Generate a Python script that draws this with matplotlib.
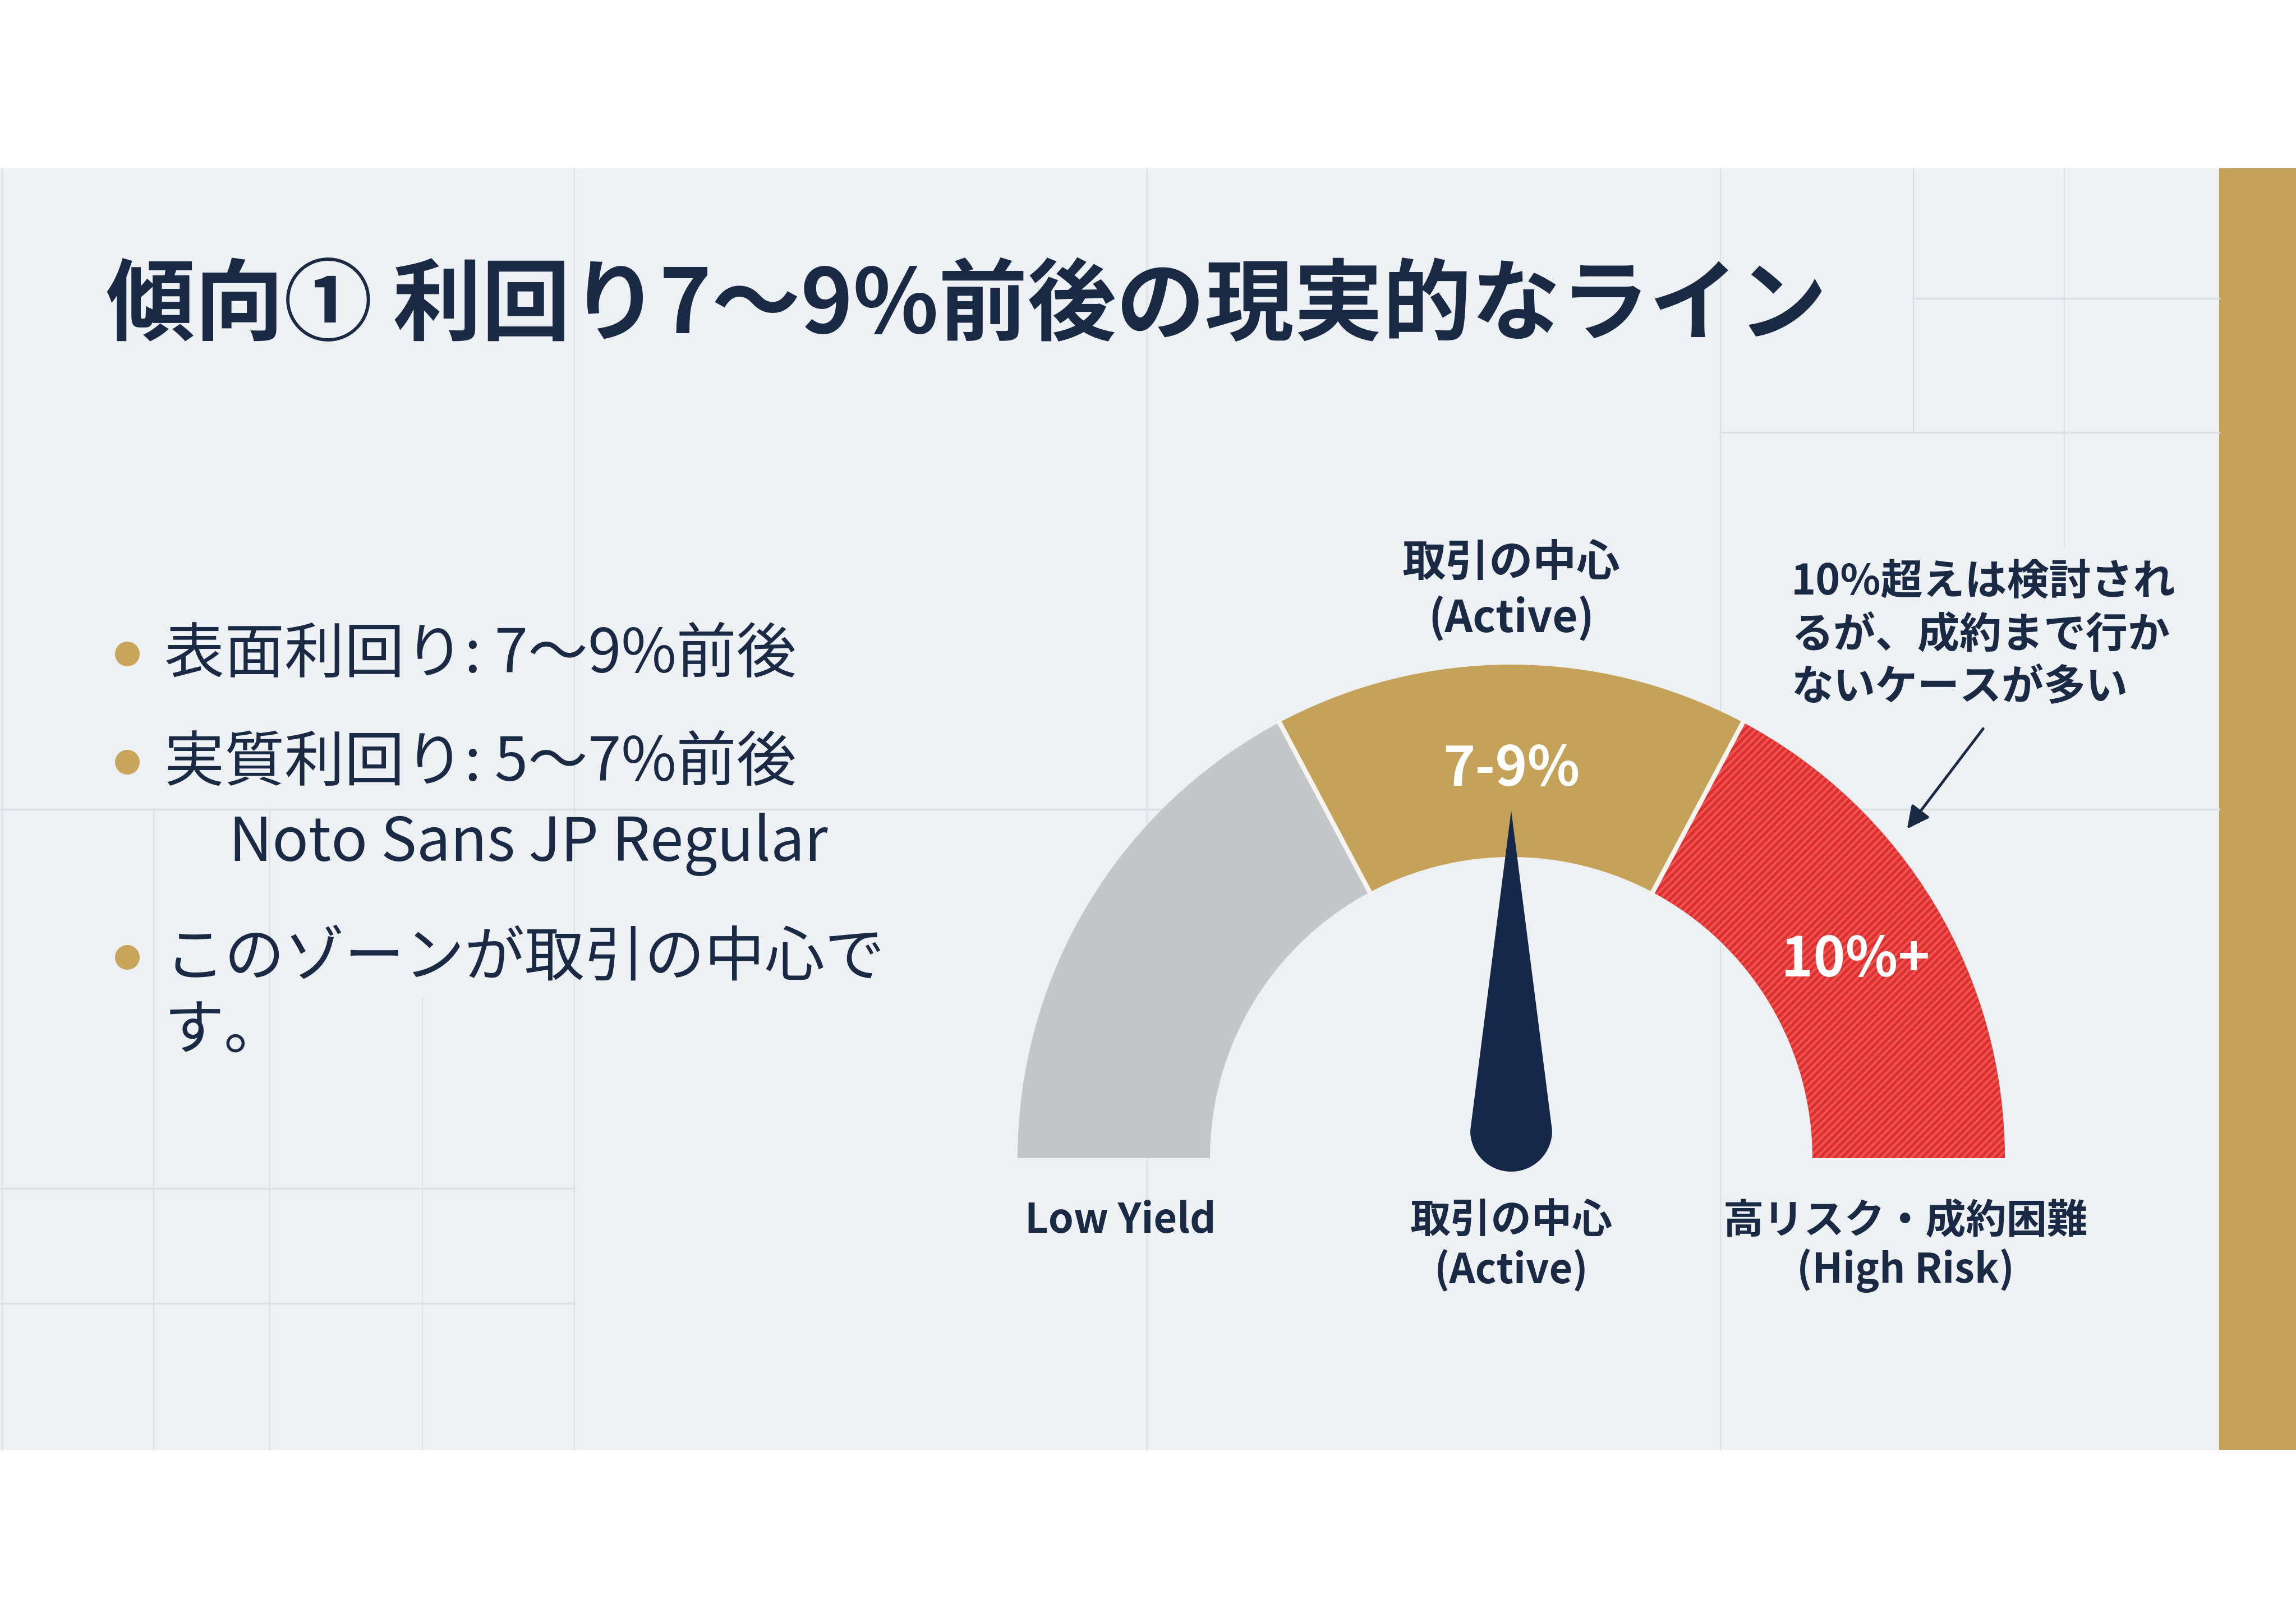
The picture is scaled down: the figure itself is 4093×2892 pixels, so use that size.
import numpy as np
import matplotlib.pyplot as plt
from matplotlib.patches import Wedge, Polygon, Circle, Rectangle
from matplotlib.collections import LineCollection

plt.rcParams['font.family'] = ['Noto Sans CJK JP', 'DejaVu Sans']

# slide text
title = '傾向① 利回り7〜9%前後の現実的なライン'
bullets = ['表面利回り: 7〜9%前後', '実質利回り: 5〜7%前後', 'このゾーンが取引の中心で']
bullet_extra = ['Noto Sans JP Regular', 'す。']

# gauge data: zones from left to right, size in degrees of the half circle
zone_sizes = [62, 56, 62]
zone_colors = ['#c5c6ca', '#c4a259', '#db2e2f']
zone_labels_inner = ['', '7-9%', '10%+']
zone_labels_bottom = [['Low Yield'], ['取引の中心', '(Active)'], ['高リスク・成約困難', '(High Risk)']]
needle_value = 0.5  # fraction of the gauge (0 = left, 1 = right)
top_label = '取引の中心\n(Active)'
note = ['10%超えは検討され', 'るが、成約まで行か', 'ないケースが多い']

W, H = 4093, 2892
navy = '#1a2a44'
bg = '#eef1f4'
grid_c = '#dde0e5'

fig = plt.figure(figsize=(W / 100, H / 100), dpi=100, facecolor='white')
ax = fig.add_axes([0, 0, 1, 1])
ax.set_xlim(0, W)
ax.set_ylim(H, 0)
ax.set_aspect('equal')
ax.axis('off')

# slide background + gold side bar
ax.add_patch(Rectangle((0, 300), 3956, 2285, facecolor=bg, edgecolor='none', zorder=0))
ax.add_patch(Rectangle((3956, 300), W - 3956, 2285, facecolor='#c4a058', edgecolor='none', zorder=0))

# faint grid of the background
vlines = [(1024, 300, 2585), (2045, 300, 2585), (3067, 300, 2585), (3411, 300, 771),
          (3680, 300, 974), (274, 1445, 2585), (481, 1445, 2585), (753, 1780, 2585), (4, 300, 2585)]
hlines = [(1443, 0, 3956), (2119, 0, 1024), (2324, 0, 1024), (532, 3411, 3956), (771, 3067, 3956)]
for x, y0, y1 in vlines:
    ax.plot([x, x], [y0, y1], color=grid_c, lw=1.6, zorder=1)
for y, x0, x1 in hlines:
    ax.plot([x0, x1], [y, y], color=grid_c, lw=2.4, zorder=1)

# title
ax.text(189, 548, title, fontsize=114, fontweight='bold', color=navy, va='center', ha='left', zorder=5)

# bullets
by = [1168, 1361, 1709]
for y, t in zip(by, bullets):
    ax.add_patch(Circle((227, y - 2), 22, facecolor='#c9a55c', edgecolor='none', zorder=5))
    ax.text(293, y, t, fontsize=77, color=navy, va='center', ha='left', zorder=5)
ax.text(408, 1535, bullet_extra[0], fontsize=77, color=navy, va='baseline', ha='left', zorder=5)
ax.text(293, 1840, bullet_extra[1], fontsize=77, color=navy, va='center', ha='left', zorder=5)

# gauge
cx, cy = 2694, 2065
R, r = 880, 537
mid = (R + r) / 2
start = 180
edges = []
for i, (size, col) in enumerate(zip(zone_sizes, zone_colors)):
    a1, a2 = start - size, start
    w = Wedge((cx, cy), R, -a2, -a1, width=R - r, facecolor=col, edgecolor='none', zorder=3)
    ax.add_patch(w)
    if i == 2:
        # fine diagonal stripes over the risky zone
        cs = np.arange(cx + cy - R - 20, cx + R + cy + 20, 13)
        segs = [[(c - cy - 10, cy + 10), (c - (cy - R - 10), cy - R - 10)] for c in cs]
        lc = LineCollection(segs, colors='#f0524f', linewidths=3.0, zorder=3.5)
        ax.add_collection(lc)
        lc.set_clip_path(w)
    am = np.radians((a1 + a2) / 2)
    if zone_labels_inner[i]:
        rr = mid - (16 if i == 1 else 0)
        ax.text(cx + rr * np.cos(am) + (6 if i == 2 else 0), cy - rr * np.sin(am) + (12 if i == 2 else 0),
                zone_labels_inner[i], fontsize=70, fontweight='bold', color='white',
                ha='center', va='center', zorder=6)
    bx = [cx - mid + 12, cx, cx + mid - 6][i]
    for k, line in enumerate(zone_labels_bottom[i]):
        ax.text(bx, 2177 + k * 89, line, fontsize=52, fontweight='bold', color=navy,
                ha='center', va='center', zorder=6)
    if i > 0:
        edges.append(a2)
    start = a1

# white separators between zones
for a in edges:
    t = np.radians(a)
    ax.plot([cx + (r - 5) * np.cos(t), cx + (R + 5) * np.cos(t)],
            [cy - (r - 5) * np.sin(t), cy - (R + 5) * np.sin(t)],
            color='#f6f4ee', lw=6, solid_capstyle='butt', zorder=4)

# needle
na = np.radians(180 - 180 * needle_value)
ux, uy = np.cos(na), -np.sin(na)
base_x, base_y = cx + ux * 49, cy + uy * 49
tip_x, tip_y = cx + ux * 620, cy + uy * 620
rb = 73
px, py = -uy, ux
ts = np.linspace(0, np.pi, 60)
arc = [(base_x + rb * (np.cos(t) * px - np.sin(t) * ux), base_y + rb * (np.cos(t) * py - np.sin(t) * uy)) for t in ts]
ax.add_patch(Polygon([(tip_x, tip_y)] + arc, closed=True, facecolor='#15284a', edgecolor='none', zorder=7))

# label above the gauge
ax.text(cx, 1054, top_label, fontsize=56, fontweight='bold', color=navy, ha='center', va='center',
        linespacing=1.3, zorder=6)

# annotation for the risky zone
for k, line in enumerate(note):
    ax.text(3193, 1038 + k * 94, line, fontsize=54, fontweight='bold', color=navy,
            ha='left', va='center', zorder=6)
ax.annotate('', xy=(3398, 1480), xytext=(3537, 1297),
            arrowprops=dict(arrowstyle='-|>', color=navy, lw=3.5, mutation_scale=60), zorder=6)

fig.savefig('out.png', dpi=100, facecolor='white')
